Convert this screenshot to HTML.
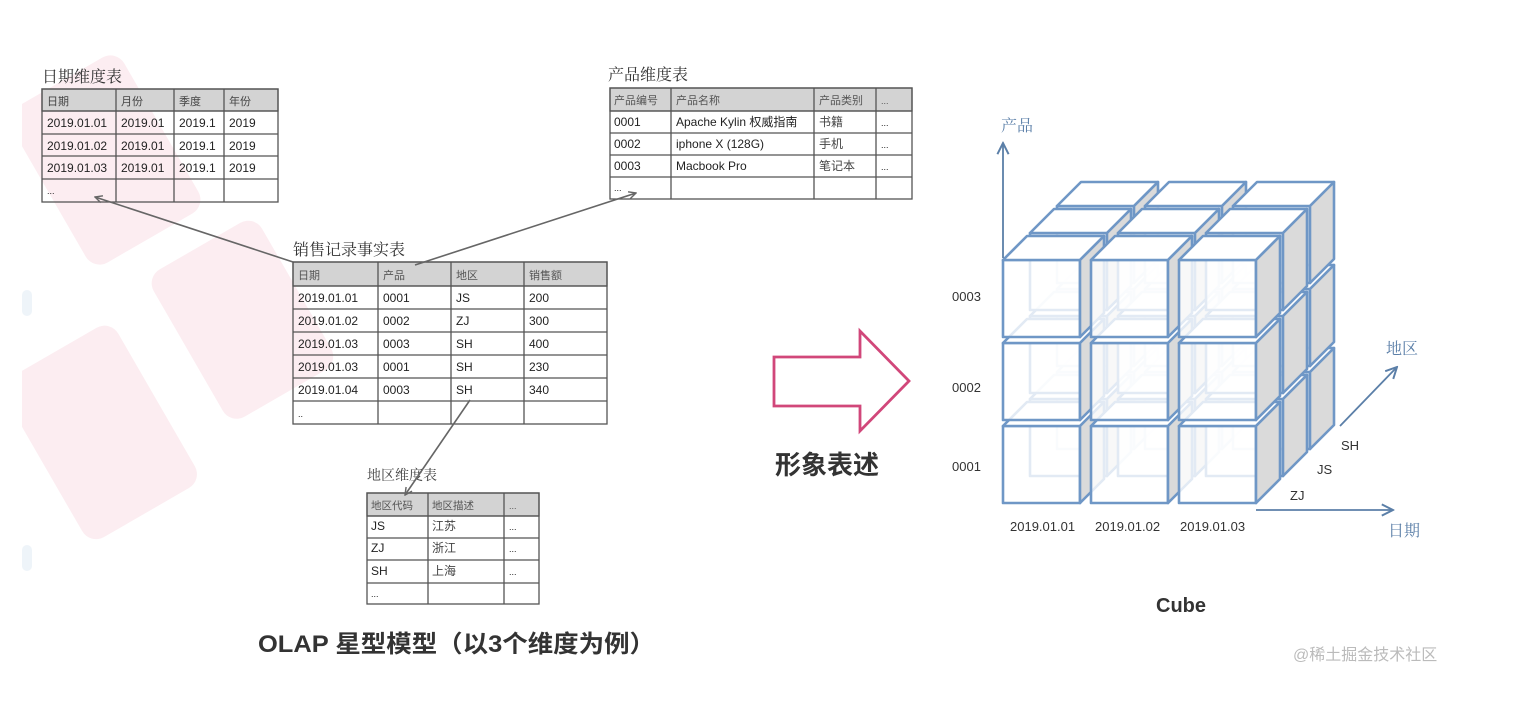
<!DOCTYPE html>
<html><head><meta charset="utf-8">
<style>
html,body{margin:0;padding:0;background:#fff;}
svg{display:block;}
.t{font-family:"Liberation Sans","Noto Sans CJK SC",sans-serif;}
.s{font-family:"Noto Serif CJK SC","Liberation Serif",serif;}
</style></head><body>
<svg width="1526" height="718" viewBox="0 0 1526 718" xmlns="http://www.w3.org/2000/svg">
<defs>
<g id="c">
<rect x="0" y="0" width="77" height="77" fill="#fff" fill-opacity="0.8"/>
<polygon points="0,0 24,-24 101,-24 77,0" fill="#fff"/>
<polygon points="77,0 101,-24 101,53 77,77" fill="#dadada"/>
</g>
<marker id="ah" viewBox="0 0 10 10" refX="9" refY="5" markerWidth="9" markerHeight="9" orient="auto-start-reverse" markerUnits="userSpaceOnUse">
<path d="M1,1 L9,5 L1,9" fill="none" stroke="#666" stroke-width="1.6"/>
</marker>
<marker id="ab" viewBox="0 0 10 10" refX="9" refY="5" markerWidth="14" markerHeight="14" orient="auto" markerUnits="userSpaceOnUse">
<path d="M1,1 L9,5 L1,9" fill="none" stroke="#5b7fa8" stroke-width="1.4"/>
</marker>
</defs>

<!-- watermark background shapes -->
<g fill="#fcedf1">
<rect x="40" y="70" width="130" height="180" rx="16" transform="rotate(-30 105 160)"/>
<rect x="180" y="235" width="125" height="170" rx="16" transform="rotate(-30 242 320)"/>
<rect x="35" y="340" width="130" height="185" rx="16" transform="rotate(-30 100 432)"/>
</g>
<rect x="0" y="0" width="22" height="718" fill="#fff"/>
<g fill="#eef4f9">
<rect x="22" y="290" width="10" height="26" rx="5"/>
<rect x="22" y="545" width="10" height="26" rx="5"/>
</g>

<!-- Date dim table -->
<text x="42" y="82" class="s" font-size="16" fill="#333">日期维度表</text>
<g stroke="#555" stroke-width="1.3" fill="none">
<rect x="42" y="89" width="236" height="22" fill="#d3d3d3"/>
<rect x="42" y="89" width="236" height="113"/>
<line x1="42" y1="111" x2="278" y2="111"/><line x1="42" y1="134" x2="278" y2="134"/><line x1="42" y1="156" x2="278" y2="156"/><line x1="42" y1="179" x2="278" y2="179"/>
<line x1="116" y1="89" x2="116" y2="202"/><line x1="174" y1="89" x2="174" y2="202"/><line x1="224" y1="89" x2="224" y2="202"/>
</g>
<g class="t" font-size="12" fill="#222">
<text x="47" y="105" font-size="11" fill="#444">日期</text><text x="121" y="105" font-size="11" fill="#444">月份</text><text x="179" y="105" font-size="11" fill="#444">季度</text><text x="229" y="105" font-size="11" fill="#444">年份</text>
<text x="47" y="127">2019.01.01</text><text x="121" y="127">2019.01</text><text x="179" y="127">2019.1</text><text x="229" y="127">2019</text>
<text x="47" y="150">2019.01.02</text><text x="121" y="150">2019.01</text><text x="179" y="150">2019.1</text><text x="229" y="150">2019</text>
<text x="47" y="172">2019.01.03</text><text x="121" y="172">2019.01</text><text x="179" y="172">2019.1</text><text x="229" y="172">2019</text>
<text x="47" y="194" font-size="9">...</text>
</g>

<!-- Product dim table -->
<text x="608" y="80" class="s" font-size="16" fill="#333">产品维度表</text>
<g stroke="#555" stroke-width="1.3" fill="none">
<rect x="610" y="88" width="302" height="23" fill="#d3d3d3"/>
<rect x="610" y="88" width="302" height="111"/>
<line x1="610" y1="111" x2="912" y2="111"/><line x1="610" y1="133" x2="912" y2="133"/><line x1="610" y1="155" x2="912" y2="155"/><line x1="610" y1="177" x2="912" y2="177"/>
<line x1="671" y1="88" x2="671" y2="199"/><line x1="814" y1="88" x2="814" y2="199"/><line x1="876" y1="88" x2="876" y2="199"/>
</g>
<g class="t" font-size="12" fill="#222">
<text x="614" y="104" font-size="11" fill="#555">产品编号</text><text x="676" y="104" font-size="11" fill="#555">产品名称</text><text x="819" y="104" font-size="11" fill="#555">产品类别</text><text x="881" y="104" font-size="9" fill="#555">...</text>
<text x="614" y="126">0001</text><text x="676" y="126">Apache Kylin 权威指南</text><text x="819" y="126" fill="#444">书籍</text><text x="881" y="126" font-size="9">...</text>
<text x="614" y="148">0002</text><text x="676" y="148">iphone X (128G)</text><text x="819" y="148" fill="#444">手机</text><text x="881" y="148" font-size="9">...</text>
<text x="614" y="170">0003</text><text x="676" y="170">Macbook Pro</text><text x="819" y="170" fill="#444">笔记本</text><text x="881" y="170" font-size="9">...</text>
<text x="614" y="191" font-size="9">...</text>
</g>

<!-- Fact table -->
<text x="293" y="255" class="s" font-size="16" fill="#333">销售记录事实表</text>
<g stroke="#555" stroke-width="1.3" fill="none">
<rect x="293" y="262" width="314" height="24" fill="#d3d3d3"/>
<rect x="293" y="262" width="314" height="162"/>
<line x1="293" y1="286" x2="607" y2="286"/><line x1="293" y1="309" x2="607" y2="309"/><line x1="293" y1="332" x2="607" y2="332"/><line x1="293" y1="355" x2="607" y2="355"/><line x1="293" y1="378" x2="607" y2="378"/><line x1="293" y1="401" x2="607" y2="401"/>
<line x1="378" y1="262" x2="378" y2="424"/><line x1="451" y1="262" x2="451" y2="424"/><line x1="524" y1="262" x2="524" y2="424"/>
</g>
<g class="t" font-size="12" fill="#222">
<text x="298" y="279" font-size="11" fill="#555">日期</text><text x="383" y="279" font-size="11" fill="#555">产品</text><text x="456" y="279" font-size="11" fill="#555">地区</text><text x="529" y="279" font-size="11" fill="#555">销售额</text>
<text x="298" y="302">2019.01.01</text><text x="383" y="302">0001</text><text x="456" y="302">JS</text><text x="529" y="302">200</text>
<text x="298" y="325">2019.01.02</text><text x="383" y="325">0002</text><text x="456" y="325">ZJ</text><text x="529" y="325">300</text>
<text x="298" y="348">2019.01.03</text><text x="383" y="348">0003</text><text x="456" y="348">SH</text><text x="529" y="348">400</text>
<text x="298" y="371">2019.01.03</text><text x="383" y="371">0001</text><text x="456" y="371">SH</text><text x="529" y="371">230</text>
<text x="298" y="394">2019.01.04</text><text x="383" y="394">0003</text><text x="456" y="394">SH</text><text x="529" y="394">340</text>
<text x="298" y="417" font-size="9">..</text>
</g>

<!-- Region dim table -->
<text x="367" y="480" class="s" font-size="14" fill="#444">地区维度表</text>
<g stroke="#555" stroke-width="1.3" fill="none">
<rect x="367" y="493" width="172" height="23" fill="#d3d3d3"/>
<rect x="367" y="493" width="172" height="111"/>
<line x1="367" y1="516" x2="539" y2="516"/><line x1="367" y1="538" x2="539" y2="538"/><line x1="367" y1="560" x2="539" y2="560"/><line x1="367" y1="583" x2="539" y2="583"/>
<line x1="428" y1="493" x2="428" y2="604"/><line x1="504" y1="493" x2="504" y2="604"/>
</g>
<g class="t" font-size="12" fill="#222">
<text x="371" y="509" font-size="10.5" fill="#555">地区代码</text><text x="432" y="509" font-size="10.5" fill="#555">地区描述</text><text x="509" y="509" font-size="9" fill="#555">...</text>
<text x="371" y="530">JS</text><text x="432" y="530" fill="#444">江苏</text><text x="509" y="530" font-size="9">...</text>
<text x="371" y="552">ZJ</text><text x="432" y="552" fill="#444">浙江</text><text x="509" y="552" font-size="9">...</text>
<text x="371" y="575">SH</text><text x="432" y="575" fill="#444">上海</text><text x="509" y="575" font-size="9">...</text>
<text x="371" y="597" font-size="9">...</text>
</g>

<!-- connectors -->
<g stroke="#666" stroke-width="1.6" fill="none">
<line x1="293" y1="262" x2="95" y2="197" marker-end="url(#ah)"/>
<line x1="415" y1="265" x2="636" y2="193" marker-end="url(#ah)"/>
<line x1="470" y1="400" x2="405" y2="495" marker-end="url(#ah)"/>
</g>

<!-- big arrow -->
<polygon points="774,357 860,357 860,331 909,381 860,431 860,406 774,406" fill="#fff" stroke="#d1477a" stroke-width="2.8"/>
<text x="775" y="474" class="t" font-size="26" font-weight="bold" fill="#333">形象表述</text>

<!-- cube -->
<g stroke="#6f97c6" stroke-width="2.6" stroke-linejoin="round">
<use href="#c" x="1057" y="372"/><use href="#c" x="1145" y="372"/><use href="#c" x="1233" y="372"/>
<use href="#c" x="1057" y="289"/><use href="#c" x="1145" y="289"/><use href="#c" x="1233" y="289"/>
<use href="#c" x="1057" y="206"/><use href="#c" x="1145" y="206"/><use href="#c" x="1233" y="206"/>
<use href="#c" x="1030" y="399"/><use href="#c" x="1118" y="399"/><use href="#c" x="1206" y="399"/>
<use href="#c" x="1030" y="316"/><use href="#c" x="1118" y="316"/><use href="#c" x="1206" y="316"/>
<use href="#c" x="1030" y="233"/><use href="#c" x="1118" y="233"/><use href="#c" x="1206" y="233"/>
<use href="#c" x="1003" y="426"/><use href="#c" x="1091" y="426"/><use href="#c" x="1179" y="426"/>
<use href="#c" x="1003" y="343"/><use href="#c" x="1091" y="343"/><use href="#c" x="1179" y="343"/>
<use href="#c" x="1003" y="260"/><use href="#c" x="1091" y="260"/><use href="#c" x="1179" y="260"/>
</g>

<!-- axes -->
<g stroke="#5b7fa8" stroke-width="1.8" fill="none">
<line x1="1003" y1="258" x2="1003" y2="143" marker-end="url(#ab)"/>
<line x1="1256" y1="510" x2="1393" y2="510" marker-end="url(#ab)"/>
<line x1="1340" y1="426" x2="1397" y2="367" marker-end="url(#ab)"/>
</g>
<g class="s" font-size="16" fill="#5b7fa8">
<text x="1001" y="131">产品</text>
<text x="1386" y="354">地区</text>
<text x="1388" y="536">日期</text>
</g>
<g class="t" font-size="13" fill="#333">
<text x="952" y="301">0003</text>
<text x="952" y="392">0002</text>
<text x="952" y="471">0001</text>
<text x="1010" y="531">2019.01.01</text>
<text x="1095" y="531">2019.01.02</text>
<text x="1180" y="531">2019.01.03</text>
<text x="1341" y="450">SH</text>
<text x="1317" y="474">JS</text>
<text x="1290" y="500">ZJ</text>
</g>

<text x="1156" y="612" class="t" font-size="20" font-weight="bold" fill="#333">Cube</text>
<text x="258" y="652" class="t" font-size="24" font-weight="bold" fill="#333" textLength="397" lengthAdjust="spacingAndGlyphs">OLAP 星型模型（以3个维度为例）</text>
<text x="1293" y="660" class="t" font-size="16" fill="#bbb">@稀土掘金技术社区</text>
</svg>
</body></html>
